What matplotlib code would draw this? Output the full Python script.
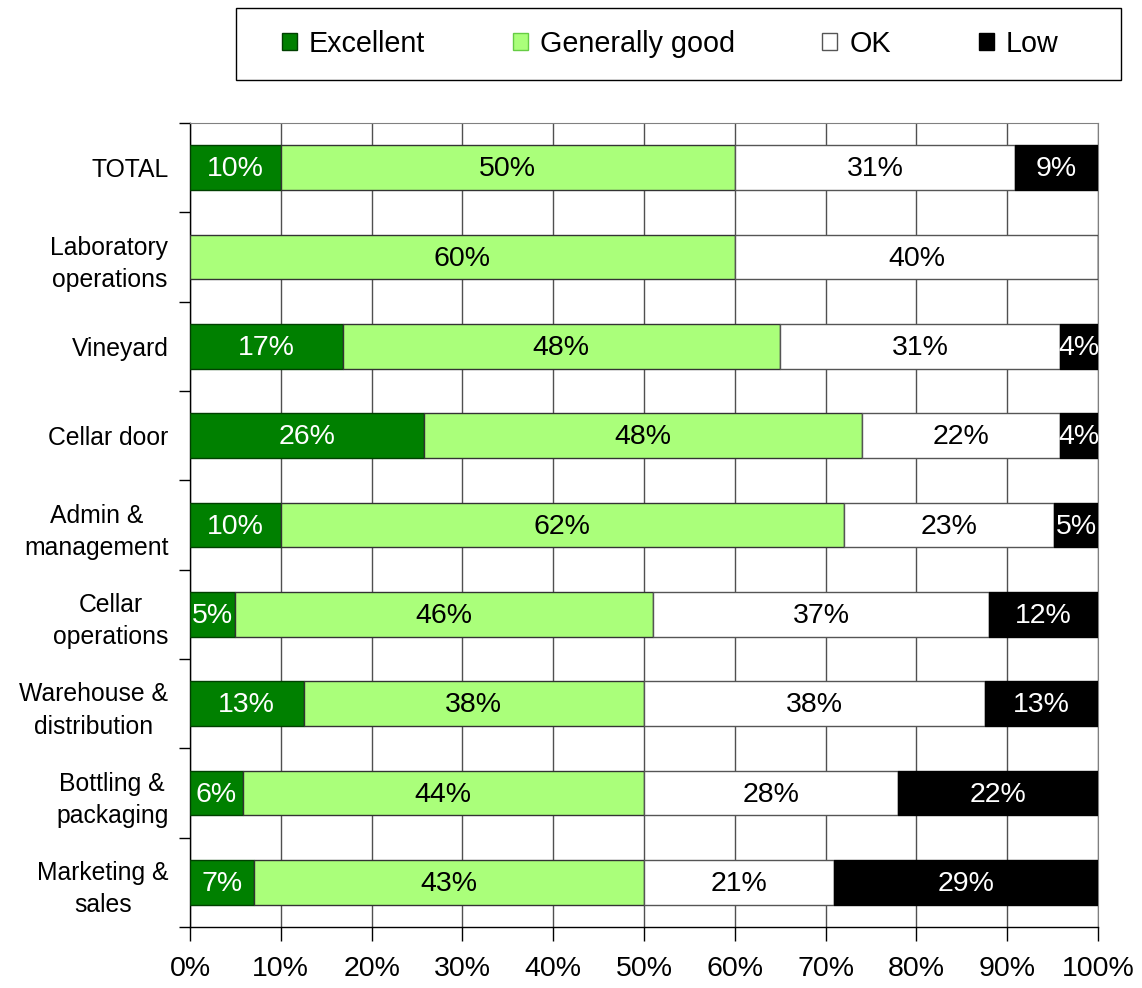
import matplotlib
matplotlib.use("Agg")
import matplotlib.pyplot as plt
from matplotlib.patches import Patch, Rectangle
import numpy as np

categories = ["TOTAL", "Laboratory\noperations", "Vineyard", "Cellar door",
              "Admin &\nmanagement", "Cellar\noperations", "Warehouse &\ndistribution",
              "Bottling &\npackaging", "Marketing &\nsales"]
excellent = [10.0, 0.0, 16.8, 25.8, 10.0, 5.0, 12.5, 5.8, 7.0]
good      = [50.0, 60.0, 48.2, 48.2, 62.0, 46.0, 37.5, 44.2, 43.0]
ok        = [30.9, 40.0, 30.8, 21.8, 23.2, 37.0, 37.5, 28.0, 20.9]
low       = [9.1, 0.0, 4.2, 4.2, 4.8, 12.0, 12.5, 22.0, 29.1]
series_names = ["Excellent", "Generally good", "OK", "Low"]
xticks = list(range(0, 101, 10))
xtick_labels = [f"{t}%" for t in xticks]

font = "Liberation Sans"

colors = ["#008000", "#aaff7a", "#ffffff", "#000000"]
edges = ["#004000", "#333333", "#555555", "#000000"]
txtcol = ["white", "black", "black", "white"]

fig = plt.figure(figsize=(11.42, 9.88), dpi=100)
ax = fig.add_axes([190/1142, 61/988, 908/1142, (927-123)/988])

y = np.arange(len(categories))
left = np.zeros(len(categories))
data = [excellent, good, ok, low]
for i, vals in enumerate(data):
    vals = np.array(vals)
    ax.barh(y, vals, left=left, height=0.5, color=colors[i],
            edgecolor=edges[i], linewidth=1, zorder=3)
    for yy, l, v in zip(y, left, vals):
        if v > 0:
            ax.text(l + v/2, yy + 0.02, f"{int(v + 0.5)}%", ha="center", va="center",
                    color=txtcol[i], fontsize=20.5, family=font, zorder=4)
    left = left + vals

ax.set_xlim(0, 100)
ax.set_ylim(len(categories) - 0.5, -0.5)
ax.set_xticks(xticks)
ax.set_xticklabels(xtick_labels, family=font, fontsize=20.5)
ax.tick_params(axis="x", direction="out", length=10, width=1, pad=11)
ax.set_yticks(y)
ax.set_yticklabels(categories, family=font, fontsize=17.8, multialignment="center",
                   linespacing=1.45)
ax.tick_params(axis="y", which="major", length=0, pad=15.5)
ax.set_yticks(np.arange(-0.5, len(categories)), minor=True)
ax.tick_params(axis="y", which="minor", direction="out", length=8, width=1)
ax.xaxis.grid(True, color="#505050", linewidth=1, zorder=0)
ax.set_axisbelow(True)
for s in ["left", "bottom"]:
    ax.spines[s].set_color("black")
    ax.spines[s].set_linewidth(1)
ax.spines["top"].set_color("#808080")
ax.spines["right"].set_color("#808080")

handles = [Patch(facecolor=colors[i], edgecolor=edges[i] if i != 1 else "#66cc44", linewidth=1)
           for i in range(4)]
fig.legend(handles, series_names, loc="center", bbox_to_anchor=(670/1142, 1 - 44/988),
           ncol=4, frameon=False, prop={"family": font, "size": 20.7},
           handlelength=0.52, handleheight=0.52, handletextpad=0.42,
           columnspacing=3.05, borderaxespad=0)
fig.patches.append(Rectangle((236/1142, 1 - 80/988), (1121-236)/1142, 72/988,
                             transform=fig.transFigure, fill=False, edgecolor="black",
                             linewidth=1))

fig.savefig("out.png", dpi=100)
